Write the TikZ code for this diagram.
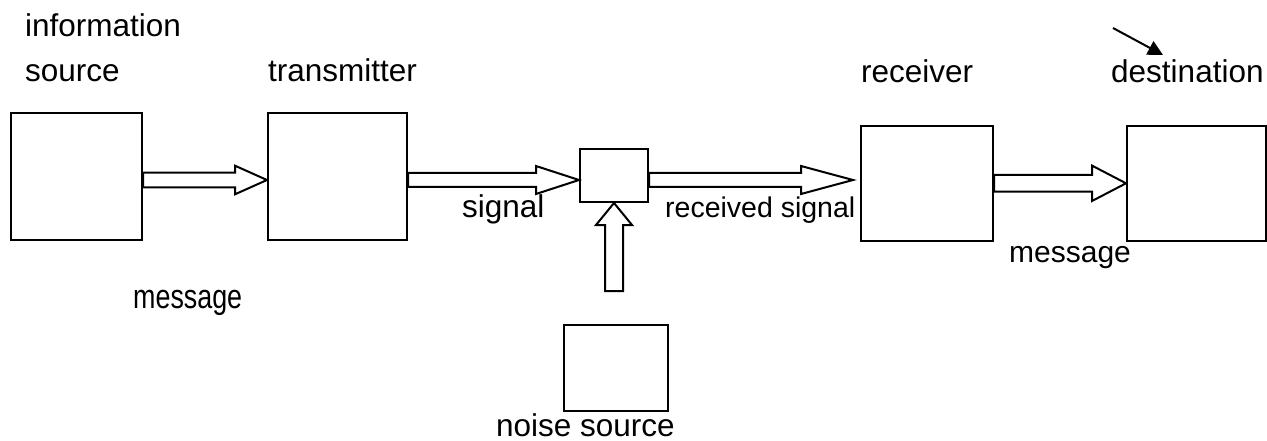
\documentclass[tikz,border=0pt]{standalone}
\usepackage{fontspec}
\setmainfont{Liberation Sans}
\usetikzlibrary{arrows.meta,calc}
\tikzset{
  blk/.style={draw,line width=2pt,inner sep=0pt,anchor=north west},
  lbl/.style={inner sep=0pt,anchor=base west,font=\fontsize{31.5}{37}\selectfont},
  barrow/.style={draw,line width=2pt,fill=white,line join=miter},
  thin/.style={-{Triangle[length=15pt,width=15pt]},line width=2pt},
}
% horizontal block arrow: start, tip, shaft half width, head half width, head length
\newcommand\hblock[5]{%
  \draw[barrow] let \p1=(#1), \p2=(#2) in
    ({\x1},{\y1+#3}) -- ({\x2-#5},{\y1+#3}) -- ({\x2-#5},{\y1+#4}) -- (\x2,\y2)
    -- ({\x2-#5},{\y1-#4}) -- ({\x2-#5},{\y1-#3}) -- ({\x1},{\y1-#3}) -- cycle;}
% vertical (upward) block arrow: start, tip, shaft half width, head half width, head length
\newcommand\vblock[5]{%
  \draw[barrow] let \p1=(#1), \p2=(#2) in
    ({\x1-#3},{\y1}) -- ({\x1-#3},{\y2-#5}) -- ({\x1-#4},{\y2-#5}) -- (\x2,\y2)
    -- ({\x1+#4},{\y2-#5}) -- ({\x1+#3},{\y2-#5}) -- ({\x1+#3},{\y1}) -- cycle;}
\begin{document}
\begin{tikzpicture}[x=1pt,y=-1pt]
\useasboundingbox (0,0) rectangle (1267,441);
% boxes
\node[blk,minimum width=131.5pt,minimum height=127pt] (src) at (9.5,112) {};
\node[blk,minimum width=139pt,minimum height=127pt] (tx) at (267,112) {};
\node[blk,minimum width=68pt,minimum height=53pt] (mix) at (579,148) {};
\node[blk,minimum width=132pt,minimum height=115pt] (rx) at (860,125) {};
\node[blk,minimum width=139pt,minimum height=115pt] (dst) at (1126,125) {};
\node[blk,minimum width=104pt,minimum height=86pt] (noise) at (563,324) {};
% block arrows
\hblock{src.east |- 0,180}{tx.west |- 0,180}{7.3pt}{14.3pt}{32pt}
\hblock{tx.east |- 0,180}{mix.west |- 0,180}{7pt}{14pt}{43pt}
\coordinate (rtip) at ($(rx.west |- 0,180)+(-7,0)$);
\hblock{mix.east |- 0,180}{rtip}{7pt}{14pt}{52pt}
\hblock{rx.east |- 0,183.3}{dst.west |- 0,183.3}{8.3pt}{17.7pt}{34pt}
\coordinate (nbot) at ($(mix.south)+(0,88)$);
\vblock{nbot}{mix.south}{9pt}{18pt}{22pt}
% labels
\node[lbl] (l1) at (25,37) {information};
\node[lbl] (l2) at (25,82) {source};
\node[lbl] (l3) at (268,82) {transmitter};
\node[lbl] (l4) at (861,83) {receiver};
\node[lbl] (l5) at (1111,83) {destination};
\node[lbl] (l6) at (462,217) {signal};
\node[lbl,font=\fontsize{28.5}{34}\selectfont] (l7) at (665,217) {received signal};
\node[lbl,font=\fontsize{30}{36}\selectfont] (l8) at (1009,262) {message};
\node[lbl,font=\fontsize{34}{40}\selectfont] (l9) at (133,308) {\scalebox{0.79}[1]{message}};
\node[lbl] (l10) at (496,436.5) {noise source};
% small arrow
\coordinate (pa) at (1113,28);
\coordinate (pb) at (1163,55);
\draw[thin] (pa) -- (pb);
\end{tikzpicture}
\end{document}
